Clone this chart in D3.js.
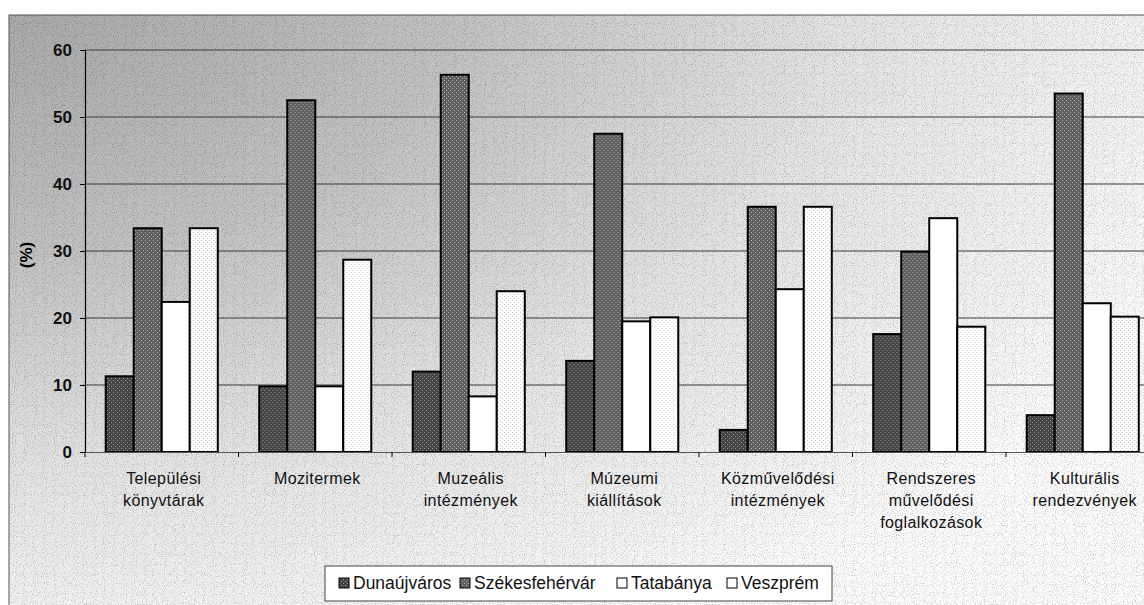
<!DOCTYPE html>
<html>
<head>
<meta charset="utf-8">
<script src="https://cdn.jsdelivr.net/npm/d3@7"></script>
<style>
  body { margin: 0; background: #fff; }
  svg { display: block; font-family: Arial, "Liberation Sans", sans-serif; }
</style>
</head>
<body>
<div id="chart"></div>
<script>
// categories (multi-line labels) and series
const categories = [
  ["Települési", "könyvtárak"],
  ["Mozitermek"],
  ["Muzeális", "intézmények"],
  ["Múzeumi", "kiállítások"],
  ["Közművelődési", "intézmények"],
  ["Rendszeres", "művelődési", "foglalkozások"],
  ["Kulturális", "rendezvények"]
];
const seriesNames = ["Dunaújváros", "Székesfehérvár", "Tatabánya", "Veszprém"];
const dunaujvaros    = [11.3, 9.8, 12.0, 13.6, 3.3, 17.6, 5.5];
const szekesfehervar = [33.4, 52.5, 56.3, 47.5, 36.6, 29.9, 53.5];
const tatabanya      = [22.4, 9.8, 8.3, 19.5, 24.3, 34.9, 22.2];
const veszprem       = [33.4, 28.7, 24.0, 20.1, 36.6, 18.7, 20.2];
const yTicks = [0, 10, 20, 30, 40, 50, 60];

const seriesValues = [dunaujvaros, szekesfehervar, tatabanya, veszprem];
const fills = ["url(#patD)", "url(#patS)", "#ffffff", "url(#patV)"];
const swatchFills = ["url(#patD)", "url(#patS)", "#fff", "#fff"];

const width = 1144, height = 605;
const plot = { left: 85, top: 50, right: 1159.5, bottom: 452 };

const svg = d3.select("#chart").append("svg")
    .attr("width", width)
    .attr("height", height);

const defs = svg.append("defs");

// background shading: grey at top-left fading to white
const bg = defs.append("radialGradient")
    .attr("id", "bgGrad")
    .attr("gradientUnits", "userSpaceOnUse")
    .attr("cx", 0).attr("cy", 0).attr("r", 1000)
    .attr("gradientTransform", "scale(1.3,0.72)");
bg.append("stop").attr("offset", "0").attr("stop-color", "#a8a8a8");
bg.append("stop").attr("offset", "0.35").attr("stop-color", "#c2c2c2");
bg.append("stop").attr("offset", "0.65").attr("stop-color", "#e4e4e4");
bg.append("stop").attr("offset", "1").attr("stop-color", "#fbfbfb");

// speckle texture for the dithered look
const noise = defs.append("filter").attr("id", "speckle")
    .attr("x", 0).attr("y", 0).attr("width", 1).attr("height", 1);
noise.append("feTurbulence").attr("type", "fractalNoise")
    .attr("baseFrequency", 0.9).attr("numOctaves", 1).attr("result", "n");
noise.append("feColorMatrix").attr("in", "n").attr("type", "matrix")
    .attr("values", "0 0 0 0 0  0 0 0 0 0  0 0 0 0 0  0 0 0 -2.2 1.1")
    .attr("result", "dots");
noise.append("feComposite").attr("in", "dots").attr("in2", "SourceGraphic").attr("operator", "in");

function barPattern(id, base, dot) {
  const p = defs.append("pattern").attr("id", id)
      .attr("patternUnits", "userSpaceOnUse").attr("width", 4).attr("height", 4);
  p.append("rect").attr("width", 4).attr("height", 4).attr("fill", base);
  p.append("rect").attr("x", 0).attr("y", 0).attr("width", 1).attr("height", 1).attr("fill", dot);
  p.append("rect").attr("x", 2).attr("y", 2).attr("width", 1).attr("height", 1).attr("fill", dot);
}
barPattern("patD", "#444", "#9a9a9a");
barPattern("patS", "#5e5e5e", "#bcbcbc");
barPattern("patV", "#ffffff", "#c8c8c8");

// chart area background
svg.append("rect")
    .attr("x", 9).attr("y", 15)
    .attr("width", width).attr("height", height)
    .attr("fill", "url(#bgGrad)")
    .attr("stroke", "#555").attr("stroke-width", 1);
svg.append("rect")
    .attr("x", 9).attr("y", 15)
    .attr("width", width).attr("height", height)
    .attr("fill", "#999")
    .attr("opacity", 0.35)
    .attr("filter", "url(#speckle)");

const x0 = d3.scaleBand()
    .domain(d3.range(categories.length))
    .range([plot.left, plot.right])
    .padding(0);

const x1 = d3.scaleBand()
    .domain(d3.range(seriesNames.length))
    .range([0, x0.bandwidth()])
    .paddingInner(0)
    .paddingOuter(0.74);

const y = d3.scaleLinear()
    .domain([0, 60])
    .range([plot.bottom, plot.top]);

// gridlines
svg.append("g")
    .selectAll("line")
    .data(yTicks.filter(d => d > 0))
    .enter().append("line")
    .attr("x1", plot.left).attr("x2", plot.right)
    .attr("y1", d => y(d)).attr("y2", d => y(d))
    .attr("stroke", "#3a3a3a").attr("stroke-width", 1);

// bars
const groups = svg.append("g").selectAll("g")
    .data(categories.map((c, i) => i))
    .enter().append("g")
    .attr("transform", i => `translate(${x0(i)},0)`);

groups.selectAll("rect")
    .data(i => seriesValues.map((vals, s) => ({ s: s, v: vals[i] })))
    .enter().append("rect")
    .attr("x", d => x1(d.s))
    .attr("width", x1.bandwidth())
    .attr("y", d => y(d.v))
    .attr("height", d => y(0) - y(d.v))
    .attr("fill", d => fills[d.s])
    .attr("stroke", "#000")
    .attr("stroke-width", 2);

// y axis
const yAxis = svg.append("g")
    .attr("transform", `translate(${plot.left},0)`)
    .call(d3.axisLeft(y).tickValues(yTicks).tickSize(5).tickPadding(8));
yAxis.select(".domain").attr("stroke", "#000").attr("stroke-width", 1.2);
yAxis.selectAll(".tick line").attr("stroke", "#000");
yAxis.selectAll("text")
    .style("font-size", "17px")
    .style("font-weight", "bold")
    .attr("fill", "#111");

// x axis
const xAxis = svg.append("g")
    .attr("transform", `translate(0,${plot.bottom})`)
    .call(d3.axisBottom(x0).tickSize(0).tickFormat(""));
xAxis.select(".domain").attr("stroke", "#555").attr("stroke-width", 1.2);
svg.append("g").selectAll("line")
    .data(d3.range(categories.length + 1))
    .enter().append("line")
    .attr("x1", i => plot.left + i * x0.step())
    .attr("x2", i => plot.left + i * x0.step())
    .attr("y1", plot.bottom).attr("y2", plot.bottom + 5)
    .attr("stroke", "#000");

// category labels
const catLabels = svg.append("g").selectAll("text")
    .data(categories.map((c, i) => ({ lines: c, i: i })))
    .enter().append("text")
    .attr("x", d => x0(d.i) + x0.bandwidth() / 2 + 2)
    .attr("y", plot.bottom + 32)
    .attr("text-anchor", "middle")
    .style("font-size", "16px")
    .style("letter-spacing", "0.4px")
    .attr("fill", "#111");
catLabels.selectAll("tspan")
    .data(d => d.lines)
    .enter().append("tspan")
    .attr("x", function() { return d3.select(this.parentNode).attr("x"); })
    .attr("dy", (d, k) => k === 0 ? 0 : 22)
    .text(d => d);

// y axis title
svg.append("text")
    .attr("transform", "translate(32,255) rotate(-90)")
    .attr("text-anchor", "middle")
    .style("font-size", "17px")
    .style("font-weight", "bold")
    .text("(%)");

// legend
const legend = svg.append("g").attr("transform", "translate(325,566)");
legend.append("rect")
    .attr("width", 507).attr("height", 35)
    .attr("fill", "#fff")
    .attr("stroke", "#444");
const legendX = [14, 135, 292, 402];
const items = legend.selectAll("g.item")
    .data(seriesNames)
    .enter().append("g")
    .attr("class", "item")
    .attr("transform", (d, i) => `translate(${legendX[i]},17)`);
items.append("rect")
    .attr("x", 0).attr("y", -5)
    .attr("width", 10).attr("height", 10)
    .attr("fill", (d, i) => swatchFills[i])
    .attr("stroke", "#000");
items.append("text")
    .attr("x", 14).attr("y", 6)
    .style("font-size", "17.5px")
    .attr("fill", "#111")
    .text(d => d);
</script>
</body>
</html>
